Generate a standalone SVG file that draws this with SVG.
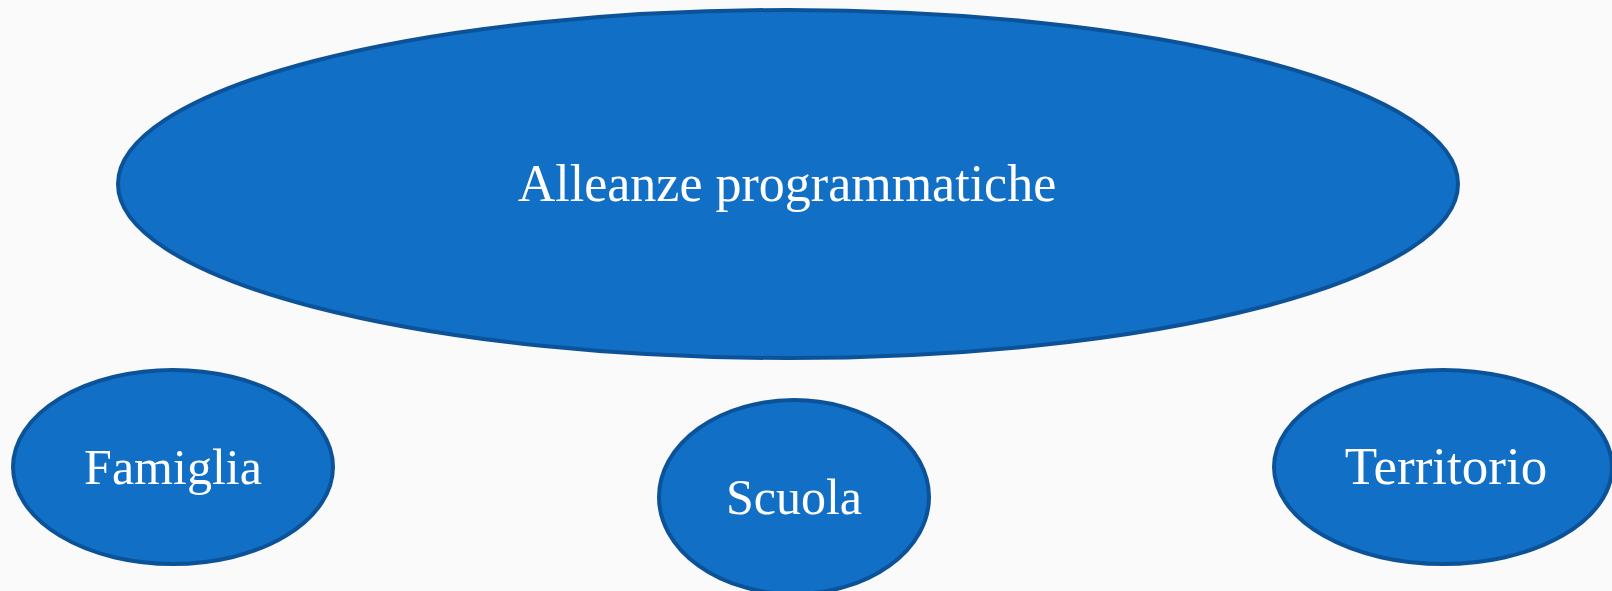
<svg xmlns="http://www.w3.org/2000/svg" width="1612" height="591" viewBox="0 0 1612 591">
<style>
.n{fill:#1170C6;stroke:#0B5299;stroke-width:4}
.t{fill:#FFFFFF;font-family:"Liberation Serif",serif;font-size:50px;text-anchor:middle}
</style>
<rect x="0" y="0" width="1612" height="591" fill="#FAFAFA"/>
<g id="connectors"></g>
<g id="alleanze">
<ellipse class="n" cx="788" cy="184" rx="670" ry="174"/>
<text class="t" x="787" y="201" style="font-size:52px">Alleanze programmatiche</text>
</g>
<g id="famiglia">
<ellipse class="n" cx="173" cy="467" rx="160" ry="97"/>
<text class="t" x="173" y="484">Famiglia</text>
</g>
<g id="scuola">
<ellipse class="n" cx="794" cy="497" rx="135" ry="97"/>
<text class="t" x="794" y="514">Scuola</text>
</g>
<g id="territorio">
<ellipse class="n" cx="1443" cy="467" rx="169" ry="97"/>
<text class="t" x="1446" y="484" style="font-size:53px">Territorio</text>
</g>
</svg>
